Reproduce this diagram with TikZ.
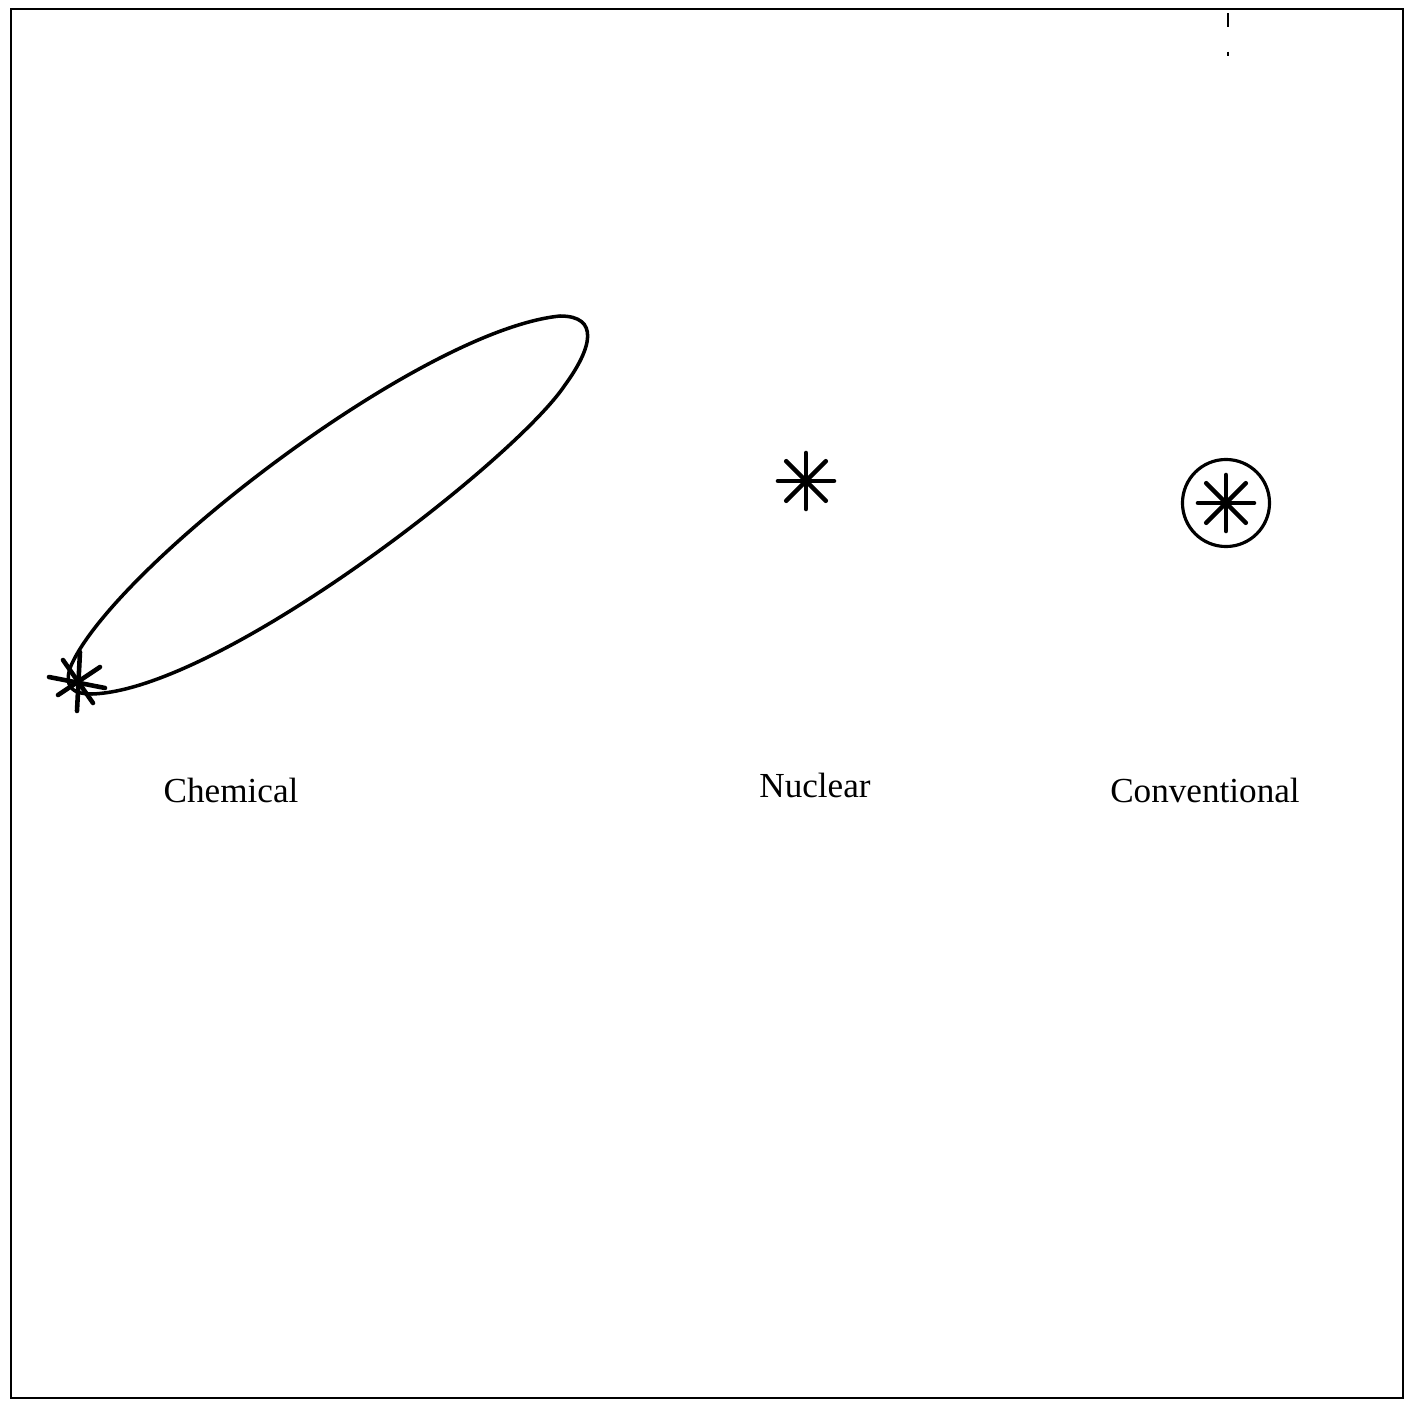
\documentclass[tikz,border=0pt]{standalone}
\usepackage{fontspec}
\setmainfont{Liberation Serif}
\usepackage{tikz}
\usetikzlibrary{positioning}

\begin{document}
\begin{tikzpicture}[
  x=0.01cm,y=-0.01cm,
  every node/.style={font=\fontsize{10}{12}\selectfont},
  frameline/.style={line width=0.6pt},
  plume/.style={line width=1pt},
  starline/.style={line width=1.3pt,line cap=round},
  ring/.style={draw,circle,line width=0.9pt,minimum size=0.87cm,inner sep=0pt}
]
\useasboundingbox (0,0) rectangle (1411,1403);
\draw[frameline] (11,9) rectangle (1403,1398);
\draw[line width=0.5pt,dash pattern=on 4pt off 7pt] (1228,13) -- (1228,56);

% markers
\coordinate (chem) at (77,683);
\coordinate (nuc) at (806,481);
\coordinate (conv) at (1226,503);
\node[ring] (convring) at (conv) {};

% chemical release cloud
\draw[plume] (70,668) .. controls (110,570) and (420,330) .. (560,316)
  .. controls (600,316) and (592,348) .. (565,385)
  .. controls (515,460) and (220,690) .. (92,694)
  .. controls (70,694) and (65,685) .. cycle;

% hand-drawn star at release point
\begin{scope}[shift={(chem)}]
  \draw[starline] (3,-31) -- (0,28);
  \draw[starline] (-28,-6) -- (28,5);
  \draw[starline] (-14,-23) -- (16,20);
  \draw[starline] (23,-16) -- (-19,12);
\end{scope}

\foreach \a in {0,45,90,135} {
  \draw[starline,shift={(nuc)}] (\a:28) -- (\a+180:28);
  \draw[starline,shift={(conv)}] (\a:28) -- (\a+180:28);
}

% labels
\node (chemlbl) at (231,790) {Chemical};
\node (nuclbl) at (815,785) {Nuclear};
\node (convlbl) at (1205,790) {Conventional};
\end{tikzpicture}
\end{document}
